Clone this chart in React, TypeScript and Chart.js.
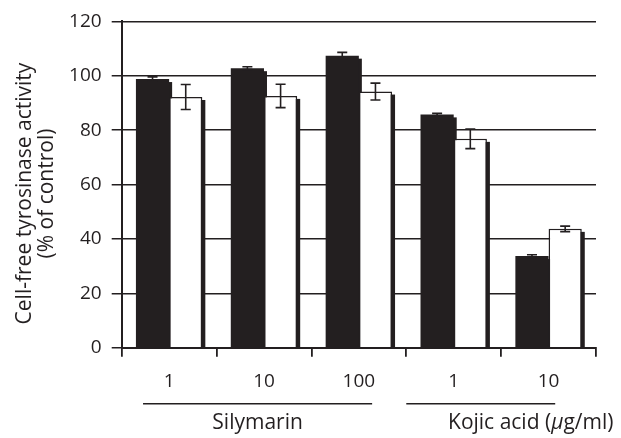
import React, { useEffect, useRef } from "react";
import { Chart, registerables } from "chart.js";

Chart.register(...registerables);

const categories = ["1", "10", "100", "1", "10"];
const blackValues = [98.8, 102.8, 107.4, 85.8, 33.7];
const blackErrors = [0.8, 0.5, 1.2, 0.4, 0.5];
const whiteValues = [92.2, 92.6, 94.2, 76.8, 43.7];
const whiteErrors = [4.6, 4.3, 3.1, 3.6, 1.0];
const yTicks = [0, 20, 40, 60, 80, 100, 120];
const yTitleLines = ["Cell-free tyrosinase activity", "(% of control)"];
const groupNames = ["Silymarin", "Kojic acid ("];
const groupRanges = [
  [0, 2],
  [3, 4],
];

const INK = "#231f20";
const FONT = "'Open Sans', 'Noto Sans', sans-serif";

const errorPlugin = {
  id: "errorsAndShadow",
  beforeDatasetsDraw(chart: any) {
    const ctx = chart.ctx;
    const area = chart.chartArea;
    ctx.save();
    ctx.beginPath();
    ctx.rect(area.left, area.top, area.right - area.left, area.bottom - area.top);
    ctx.clip();
    ctx.fillStyle = INK;
    for (let d = 0; d < 2; d++) {
      const meta = chart.getDatasetMeta(d);
      meta.data.forEach((bar: any) => {
        const p = bar.getProps(["x", "y", "base", "width"], true);
        ctx.fillRect(p.x - p.width / 2 + 3, p.y + 3, p.width, p.base - p.y);
      });
    }
    ctx.restore();
  },
  afterDatasetsDraw(chart: any) {
    const ctx = chart.ctx;
    const ys = chart.scales.y;
    const area = chart.chartArea;
    const errs = [blackErrors, whiteErrors];
    const vals = [blackValues, whiteValues];
    ctx.save();
    ctx.beginPath();
    ctx.rect(area.left, area.top - 10, area.right - area.left, area.bottom - area.top + 10);
    ctx.clip();
    ctx.strokeStyle = INK;
    ctx.lineWidth = 1.6;
    for (let d = 0; d < 2; d++) {
      const meta = chart.getDatasetMeta(d);
      meta.data.forEach((bar: any, i: number) => {
        const v = vals[d][i];
        const e = errs[d][i];
        const yt = ys.getPixelForValue(v + e);
        const yb = ys.getPixelForValue(v - e);
        const x = bar.x;
        ctx.beginPath();
        ctx.moveTo(x, yt);
        ctx.lineTo(x, yb);
        ctx.moveTo(x - 5, yt);
        ctx.lineTo(x + 5, yt);
        ctx.moveTo(x - 5, yb);
        ctx.lineTo(x + 5, yb);
        ctx.stroke();
      });
    }
    ctx.restore();
  },
  afterDraw(chart: any) {
    const ctx = chart.ctx;
    const xs = chart.scales.x;
    const area = chart.chartArea;
    const w = (xs.right - xs.left) / categories.length;
    ctx.save();
    ctx.fillStyle = INK;
    ctx.strokeStyle = INK;
    // y title
    const cy = (area.top + area.bottom) / 2 + 9;
    ctx.font = `21px ${FONT}`;
    ctx.textAlign = "center";
    ctx.textBaseline = "middle";
    yTitleLines.forEach((line, k) => {
      ctx.save();
      ctx.translate(25 + k * 22, cy);
      ctx.rotate(-Math.PI / 2);
      ctx.fillText(line, 0, 0);
      ctx.restore();
    });
    // group underlines and labels
    const lineY = area.bottom + 56;
    const textY = area.bottom + 81;
    ctx.lineWidth = 1.5;
    const ext = [
      [-0.275, 0.14],
      [-0.5, 0.07],
    ];
    groupRanges.forEach((r, g) => {
      const x0 = xs.getPixelForValue(r[0]) + ext[g][0] * w;
      const x1 = xs.getPixelForValue(r[1]) + ext[g][1] * w;
      ctx.beginPath();
      ctx.moveTo(x0, lineY);
      ctx.lineTo(x1, lineY);
      ctx.stroke();
      ctx.textBaseline = "alphabetic";
      ctx.font = `21px ${FONT}`;
      if (g === 0) {
        ctx.textAlign = "center";
        ctx.fillText(groupNames[g], (x0 + x1) / 2, textY);
      } else {
        ctx.textAlign = "left";
        let x = xs.getPixelForValue(r[0]) - 0.06 * w;
        ctx.fillText(groupNames[g], x, textY);
        x += ctx.measureText(groupNames[g]).width;
        ctx.font = `italic 21px ${FONT}`;
        ctx.fillText("\u03bc", x, textY);
        x += ctx.measureText("\u03bc").width;
        ctx.font = `21px ${FONT}`;
        ctx.fillText("g/ml)", x, textY);
      }
    });
    ctx.restore();
  },
};

export default function App() {
  const ref = useRef<HTMLCanvasElement | null>(null);
  useEffect(() => {
    if (!ref.current) return;
    const chart = new Chart(ref.current, {
      type: "bar",
      data: {
        labels: categories,
        datasets: [
          {
            data: blackValues,
            backgroundColor: INK,
            borderColor: INK,
            borderWidth: 0,
            categoryPercentage: 0.7,
            barPercentage: 1.0,
          },
          {
            data: whiteValues,
            backgroundColor: "#ffffff",
            borderColor: INK,
            borderWidth: 1.5,
            categoryPercentage: 0.7,
            barPercentage: 1.0,
          },
        ],
      },
      options: {
        animation: false,
        responsive: false,
        maintainAspectRatio: false,
        devicePixelRatio: 1,
        layout: { padding: { top: 21.3, right: 25, left: 0, bottom: 0 } },
        plugins: {
          legend: { display: false },
          tooltip: { enabled: false },
          title: { display: false },
        },
        scales: {
          x: {
            offset: true,
            grid: {
              display: true,
              offset: true,
              drawOnChartArea: false,
              drawTicks: true,
              tickLength: 9,
              color: INK,
              lineWidth: 1.8,
            },
            border: { display: true, color: INK, width: 2 },
            ticks: { color: INK, font: { family: FONT, size: 19 }, padding: 13, maxRotation: 0 },
            afterFit: (s: any) => {
              s.height = 438 - 347.7;
            },
          },
          y: {
            min: 0,
            max: 120,
            afterBuildTicks: (s: any) => {
              s.ticks = yTicks.map((v) => ({ value: v }));
            },
            ticks: { color: INK, font: { family: FONT, size: 19 }, padding: 10 },
            grid: { color: INK, lineWidth: 1.5, tickLength: 10, drawTicks: true },
            border: { display: true, color: INK, width: 2 },
            afterFit: (s: any) => {
              s.width = 121.7;
            },
          },
        },
      },
      plugins: [errorPlugin],
    });
    return () => chart.destroy();
  }, []);
  return (
    <div style={{ position: "fixed", left: 0, top: 0, width: 621, height: 438, background: "#fff" }}>
      <canvas ref={ref} width={621} height={438} style={{ width: 621, height: 438 }} />
    </div>
  );
}
